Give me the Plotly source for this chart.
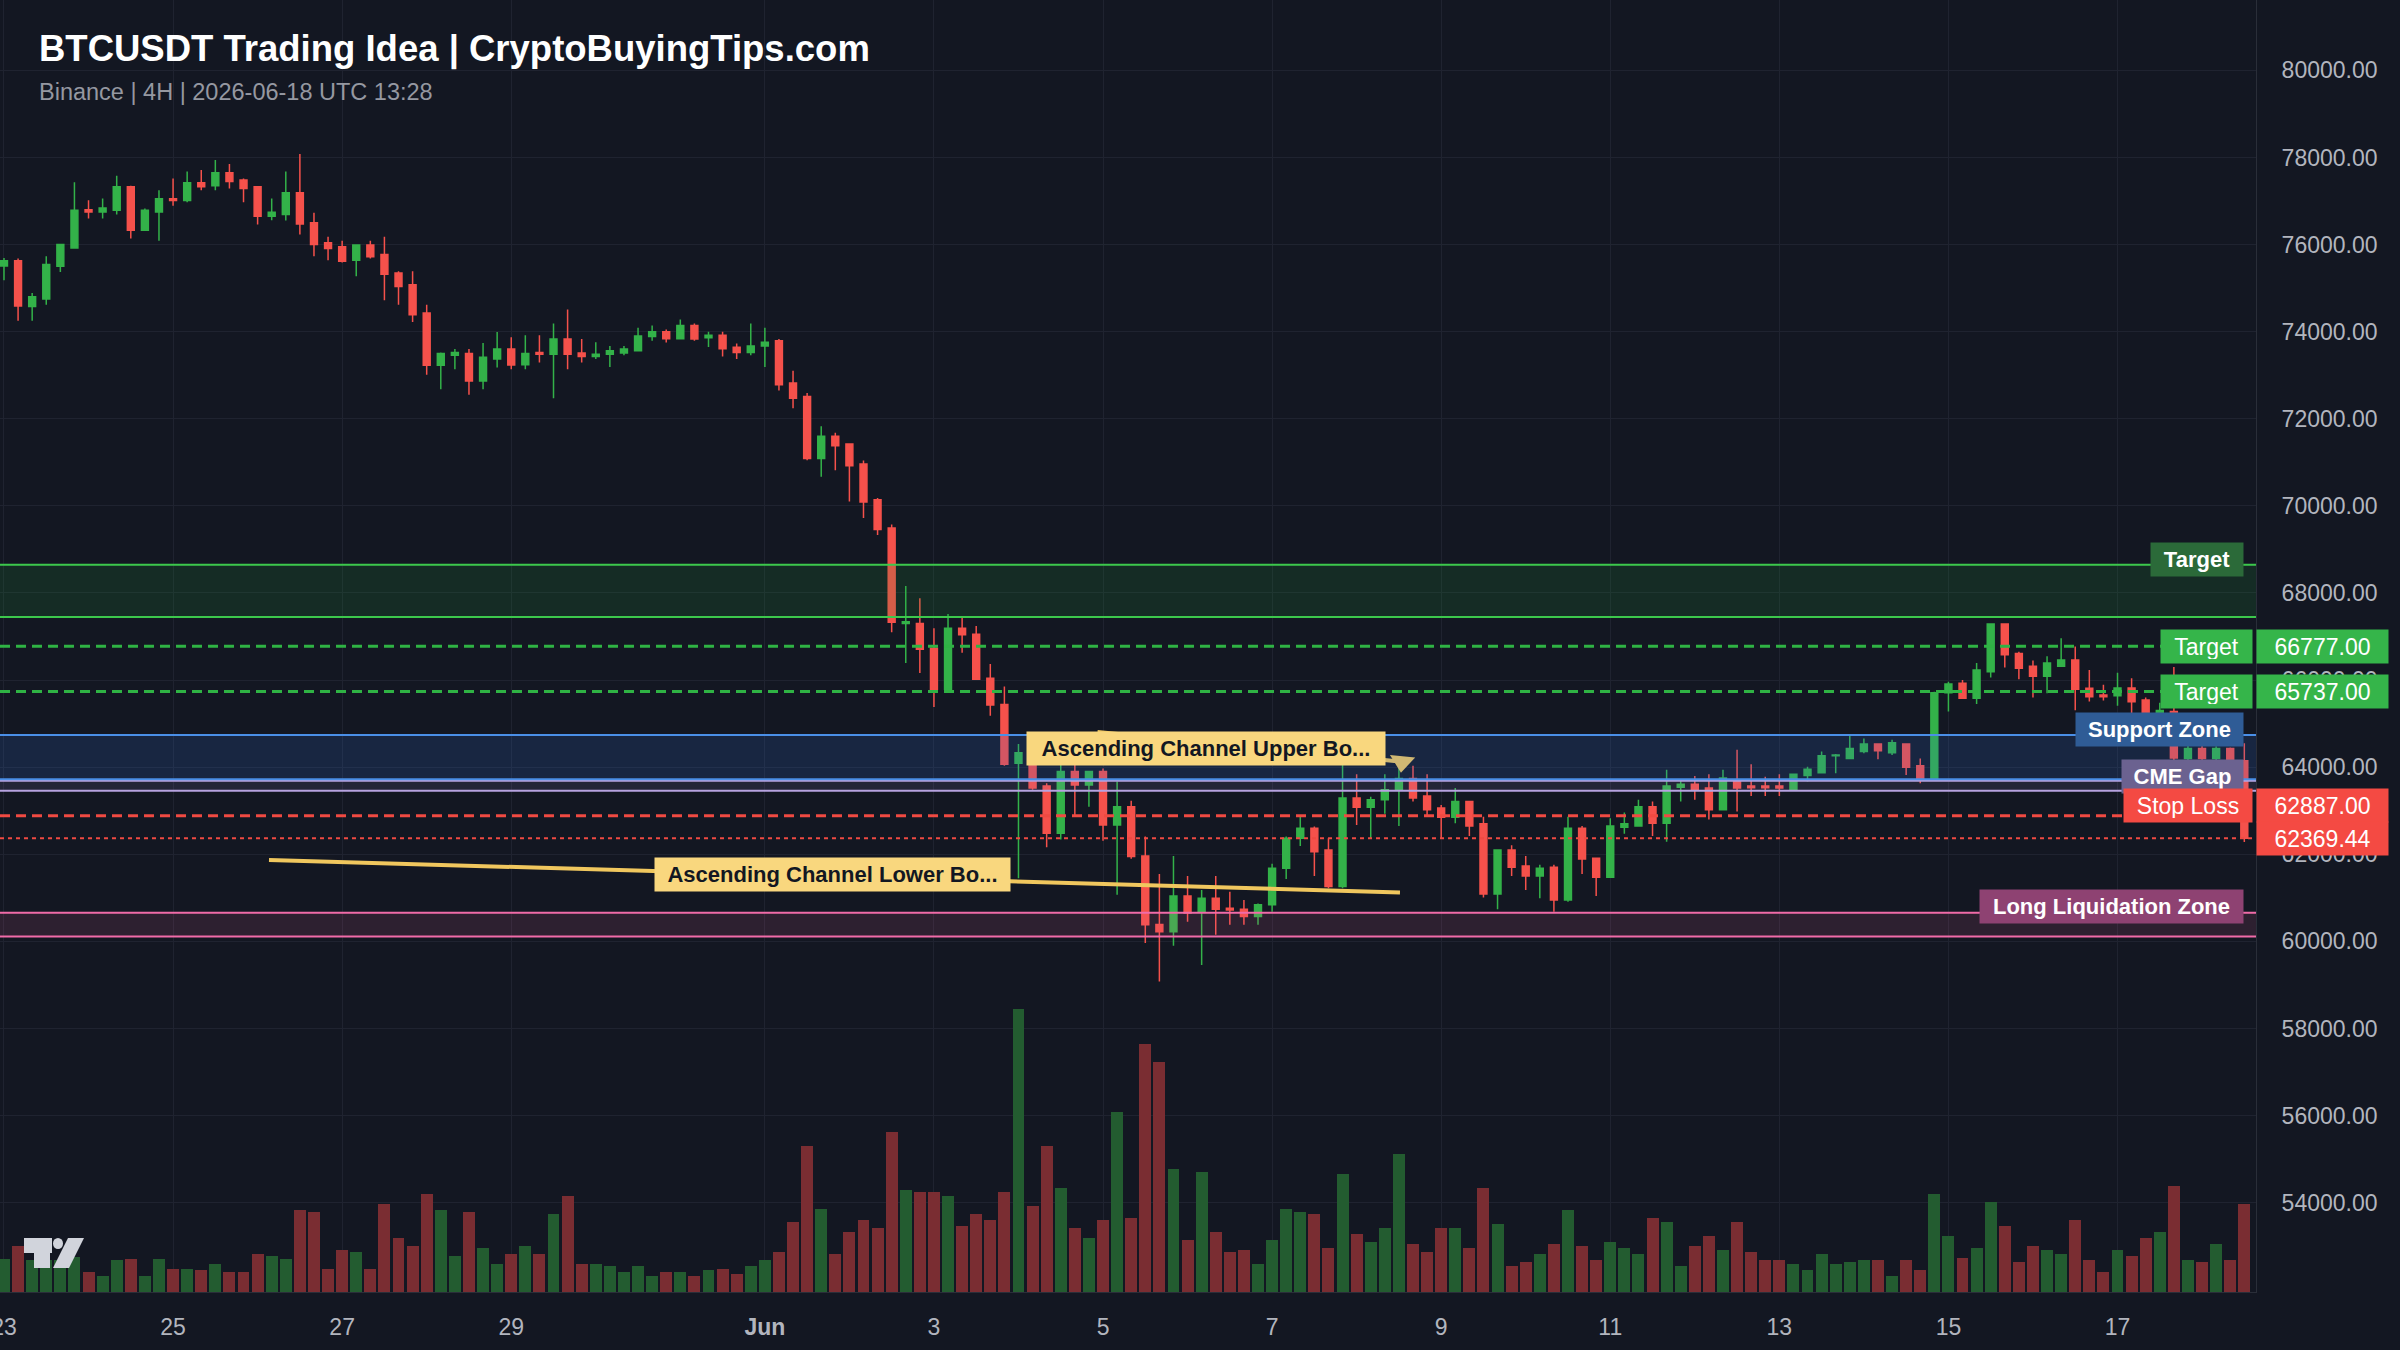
import plotly.graph_objects as go
import pandas as pd

# ---------------- data ----------------
times = pd.date_range("2026-05-23 00:00", periods=160, freq="4h")

open_ = [75510,75630,74580,74750,75500,75920,76800,76750,76790,77330,
76330,76750,77050,77010,77420,77350,77650,77480,77330,76650,
76690,77190,76500,76040,75950,75640,75990,75770,75350,75080,
74430,73230,73460,73500,72870,73370,73600,73240,73520,73480,
73830,73510,73430,73480,73510,73560,73890,74000,73840,74140,
73860,73920,73640,73520,73670,73790,72820,72510,71090,71600,
71420,70960,70140,69490,67300,67300,66730,65790,67190,67050,
66040,65440,64090,64070,63570,62480,63900,63590,63900,62670,
63090,61960,60390,60220,61040,60680,60990,60760,60740,60570,
60840,61680,62370,62600,62100,61260,63290,63080,63250,63480,
63740,63340,63060,62850,63210,62700,61090,62100,61730,61500,
61700,60950,62600,61910,61470,62620,62650,63090,62710,63540,
63610,63520,63020,63690,63570,63570,63570,63480,63810,63870,
64260,64200,64360,64530,64330,64530,64030,63740,65710,65930,
65580,66190,67290,66610,66320,66090,66320,66460,65810,65660,
65640,65820,65540,65160,65280,64200,64430,64200,64430,64150]

high = [75690,75680,74890,75730,76020,77430,77020,77060,77580,77350,
76830,77250,77520,77680,77710,77940,77850,77520,77340,77060,
77680,78080,76730,76180,76090,76000,76090,76180,75390,75390,
74620,73520,73600,73600,73740,73990,73870,73920,73920,74190,
74510,73830,73760,73670,73670,74090,74140,74050,74280,74190,
74000,74000,73730,74190,74090,73830,73100,72590,71830,71680,
71420,71040,70180,69570,68160,67880,67190,67520,67470,67240,
66370,65850,64530,64170,63630,64090,64090,63900,63970,63670,
63230,62410,61550,61960,61500,61180,61500,61140,60950,60870,
61780,62410,62860,62640,62370,64050,63840,63320,63840,64130,
64030,63840,63130,63520,63210,62860,62100,62210,61960,61760,
61760,62860,62650,61910,62830,62960,63250,63210,63940,63690,
63800,63840,63940,64400,64070,63780,63840,63840,64010,64360,
64300,64740,64660,64530,64630,64530,64200,65730,65960,66000,
66390,67290,67290,66650,66450,66550,66960,66770,66230,65890,
66170,66040,65600,65480,66300,64500,64500,64480,64450,64550]

low = [75180,74250,74250,74620,75370,75910,76600,76600,76690,76140,
76320,76090,76890,76970,77250,77250,77290,76970,76460,76560,
76550,76230,75730,75640,75590,75270,75680,74720,74620,74220,
73010,72680,73140,72550,72680,73180,73140,73140,73290,72470,
73140,73290,73370,73190,73460,73560,73790,73750,73840,73790,
73650,73430,73370,73460,73190,72650,72240,71050,70670,70820,
70100,69720,69330,67100,66390,66160,65380,65740,66630,66000,
65180,64030,61450,63480,62160,62340,62860,63090,62310,61070,
61900,59960,59080,59900,60450,59460,60150,60380,60380,60380,
60680,61430,62190,61500,61220,61220,62670,62370,62930,62650,
63210,62900,62370,62710,62420,61010,60740,61500,61180,60990,
60680,60910,61550,61040,61470,62470,62650,62420,62290,63210,
63250,62800,63020,62980,63340,63340,63340,63480,63670,63870,
63860,64180,64320,64180,64280,63820,63630,63740,65280,65580,
65450,66060,66290,66020,65600,65700,66310,65310,65510,65530,
65410,65240,65080,65000,64150,64100,64150,64150,64000,62280]

close = [75630,74590,74800,75540,76000,76790,76750,76840,77330,76330,
76790,77050,77010,77420,77330,77650,77450,77290,76650,76740,
77190,76470,76000,75910,75620,75990,75720,75320,75040,74390,
73230,73500,73520,72870,73410,73600,73235,73500,73480,73830,
73480,73430,73480,73560,73600,73900,74000,73840,74140,73830,
73920,73610,73520,73670,73760,72780,72470,71090,71600,71380,
70920,70090,69460,67330,67340,66710,65790,67190,67040,66020,
65430,64070,64330,63520,62480,63900,63590,63900,62670,63090,
61950,60380,60220,61040,60650,60990,60740,60720,60570,60840,
61680,62370,62600,62060,61260,63290,63080,63250,63480,63740,
63290,63020,62850,63210,62650,61090,62100,61700,61500,61680,
60950,62600,61890,61470,62650,62700,63090,62710,63570,63610,
63490,63020,63750,63520,63530,63530,63520,63840,63950,64260,
64280,64430,64530,64380,64560,64000,63740,65710,65910,65580,
66230,67290,66580,66270,66090,66390,66460,65790,65620,65620,
65820,65500,65160,65300,64210,64430,64200,64430,64150,62369.44]

volume = [3330,4570,3200,3200,3200,3500,2000,1570,3170,3330,
1570,3330,2330,2330,2170,2770,2000,2000,3770,3570,
3330,8170,7970,2330,4170,3970,2330,8770,5400,4600,
9770,8170,3570,7970,4370,2770,3770,4600,3770,7770,
9570,2770,2770,2570,1970,2570,1570,1970,1970,1570,
2170,2330,1770,2570,3170,3970,7000,14600,8330,3770,
5970,7170,6370,15970,10170,9970,9970,9570,6570,7770,
7170,9970,28330,8570,14600,10370,6370,5400,7170,17970,
7370,24770,23000,12330,5170,12000,5970,3970,4170,2770,
5170,8330,7970,7770,4370,11800,5770,4970,6370,13800,
4770,3970,6370,6370,4370,10370,6770,2570,2970,3770,
4770,8170,4570,3170,4970,4370,3770,7370,6970,2570,
4570,5570,4170,6970,3970,3170,3170,2770,2170,3770,
2770,2970,3170,3170,1570,3170,2170,9770,5570,3370,
4370,8970,6570,2970,4570,4170,3770,7170,3170,1970,
4170,3570,5370,5970,10570,3170,2970,4770,3170,8770]

# levels
target_zone = [67450, 68650]
target_1 = 66777.00
target_2 = 65737.00
support_zone = [63720, 64740]
cme_gap = [63460, 63690]
stop_loss = 62887.00
last_price = 62369.44
liq_zone = [60110, 60660]

channel_upper_x = ["2026-06-04 22:26", "2026-06-08 12:53"]
channel_upper_y = [64808, 64126]
channel_lower_x = ["2026-05-26 03:14", "2026-06-08 12:18"]
channel_lower_y = [61869, 61123]
upper_label_pos = ["2026-06-06 05:15", 64430]
lower_label_pos = ["2026-06-01 19:12", 61525]

tick_dates = ["2026-05-23", "2026-05-25", "2026-05-27", "2026-05-29", "2026-06-01",
              "2026-06-03", "2026-06-05", "2026-06-07", "2026-06-09", "2026-06-11",
              "2026-06-13", "2026-06-15", "2026-06-17"]
tick_text = ["23", "25", "27", "29", "<b>Jun</b>", "3", "5", "7", "9", "11", "13", "15", "17"]
price_ticks = list(range(54000, 80001, 2000))

# ---------------- style ----------------
BG = "#131722"
GRID = "#1f2330"
UP = "#33b249"
DOWN = "#f5514b"
VOL_UP = "#235c30"
VOL_DOWN = "#7a2d32"
FONT = "Liberation Sans, Arial, Helvetica, sans-serif"
W, H = 2400, 1350
PLOT_W, PLOT_H = 2256, 1292

vol_colors = [VOL_UP if c >= o else VOL_DOWN for o, c in zip(open_, close)]

fig = go.Figure()

fig.add_trace(go.Bar(
    x=times, y=volume, marker_color=vol_colors, marker_line_width=0,
    width=12.2e6, yaxis="y2", hoverinfo="skip", showlegend=False))

fig.add_trace(go.Candlestick(
    x=times, open=open_, high=high, low=low, close=close,
    increasing=dict(line=dict(color=UP, width=1.5), fillcolor=UP),
    decreasing=dict(line=dict(color=DOWN, width=1.5), fillcolor=DOWN),
    showlegend=False))

CH = "#f0c75e"
fig.add_trace(go.Scatter(x=channel_lower_x, y=channel_lower_y, mode="lines",
                         line=dict(color=CH, width=4), showlegend=False, hoverinfo="skip"))
fig.add_trace(go.Scatter(x=channel_upper_x, y=channel_upper_y, mode="lines+markers",
                         line=dict(color=CH, width=4),
                         marker=dict(symbol=["circle", "triangle-right"], size=[0, 22],
                                     color=[CH, CH], opacity=1, angleref="previous",
                                     line=dict(width=0, color=CH)),
                         showlegend=False, hoverinfo="skip"))

shapes = []


def hline(y, color, width, dash="solid"):
    shapes.append(dict(type="line", xref="paper", x0=0, x1=1, yref="y", y0=y, y1=y,
                       line=dict(color=color, width=width, dash=dash), layer="above"))


def zone(y0, y1, fill):
    shapes.append(dict(type="rect", xref="paper", x0=0, x1=1, yref="y", y0=y0, y1=y1,
                       fillcolor=fill, line=dict(width=0), layer="above"))


zone(target_zone[0], target_zone[1], "rgba(34,171,63,0.15)")
hline(target_zone[0], "#3cc84c", 2)
hline(target_zone[1], "#3cc84c", 2)
zone(support_zone[0], support_zone[1], "rgba(52,110,220,0.17)")
zone(cme_gap[0], cme_gap[1], "rgba(160,140,220,0.12)")
zone(liq_zone[0], liq_zone[1], "rgba(240,98,160,0.12)")
hline(support_zone[1], "#4a8fe7", 2)
hline(cme_gap[0], "#b7a3e0", 2)
hline(cme_gap[1], "#b7a3e0", 2)
hline(support_zone[0], "#4a8fe7", 2)
hline(liq_zone[0], "#f06ba8", 2)
hline(liq_zone[1], "#f06ba8", 2)
hline(target_1, "#2fb344", 3, "10px,6px")
hline(target_2, "#2fb344", 3, "10px,6px")
hline(stop_loss, "#f04a42", 3, "10px,6px")
hline(last_price, "#f04a42", 2, "4px,4px")


# TradingView-like logo (decoration, pixel positions)
def px(x):
    return x / PLOT_W


def py(y):
    return (PLOT_H - y) / PLOT_H


LOGO = "#d1d4dc"
shapes.append(dict(type="rect", xref="paper", yref="paper", x0=px(24), x1=px(52),
                   y0=py(1253), y1=py(1238), fillcolor=LOGO, line_width=0, layer="above"))
shapes.append(dict(type="rect", xref="paper", yref="paper", x0=px(34), x1=px(50),
                   y0=py(1268), y1=py(1238), fillcolor=LOGO, line_width=0, layer="above"))
shapes.append(dict(type="circle", xref="paper", yref="paper", x0=px(53), x1=px(63),
                   y0=py(1249), y1=py(1238), fillcolor=LOGO, line_width=0, layer="above"))
shapes.append(dict(type="path", xref="paper", yref="paper",
                   path=f"M {px(68)} {py(1238)} L {px(84)} {py(1238)} L {px(69)} {py(1268)} L {px(53)} {py(1268)} Z",
                   fillcolor=LOGO, line_width=0, layer="above"))

annotations = []

# title
annotations.append(dict(xref="paper", yref="paper", x=px(37), y=py(49), xanchor="left", yanchor="middle",
                        text="<b>BTCUSDT Trading Idea | CryptoBuyingTips.com</b>", showarrow=False,
                        font=dict(family=FONT, size=36.5, color="#ffffff")))
annotations.append(dict(xref="paper", yref="paper", x=px(37), y=py(92), xanchor="left", yanchor="middle",
                        text="Binance | 4H | 2026-06-18 UTC 13:28", showarrow=False,
                        font=dict(family=FONT, size=23.5, color="#9598a1")))


def zlabel(text, y, bg, width, yshift, xshift=-12, bold=True, fc="#ffffff", size=22):
    annotations.append(dict(xref="paper", yref="y", x=1, y=y, xanchor="right", yanchor="middle",
                            xshift=xshift, yshift=yshift,
                            text=f"<b>{text}</b>" if bold else text, showarrow=False,
                            bgcolor=bg, borderpad=4, width=width, height=25, align="center",
                            font=dict(family=FONT, size=size, color=fc)))


def ptag(value, bg, yshift=0):
    annotations.append(dict(xref="paper", yref="y", x=1, y=value, xanchor="left", yanchor="middle",
                            yshift=yshift, text=f"{value:.2f}", showarrow=False,
                            bgcolor=bg, borderpad=4, width=123, height=25, align="center",
                            font=dict(family=FONT, size=23, color="#ffffff")))


zlabel("Target", target_zone[1], "#2b6a39", 84, 5)
zlabel("Target", target_1, "#35b54a", 83, 0, xshift=-3, bold=False, size=23)
zlabel("Target", target_2, "#35b54a", 83, 0, xshift=-3, bold=False, size=23)
zlabel("Support Zone", support_zone[1], "#2f5c96", 159, 5)
zlabel("CME Gap", cme_gap[1], "#6b6290", 113, 4)
zlabel("Stop Loss", stop_loss, "#f44a43", 120, 10, xshift=-3, bold=False, size=23)
zlabel("Long Liquidation Zone", liq_zone[1], "#8e4272", 255, 6)

ptag(target_1, "#35b54a")
ptag(target_2, "#35b54a")
ptag(stop_loss, "#f44a43", yshift=10)
ptag(last_price, "#f44a43")

annotations.append(dict(x=upper_label_pos[0], y=upper_label_pos[1], xref="x", yref="y",
                        text="<b>Ascending Channel Upper Bo...</b>", showarrow=False,
                        bgcolor="#f9d77e", borderpad=4, width=350, height=25,
                        font=dict(family=FONT, size=22, color="#131722")))
annotations.append(dict(x=lower_label_pos[0], y=lower_label_pos[1], xref="x", yref="y",
                        text="<b>Ascending Channel Lower Bo...</b>", showarrow=False,
                        bgcolor="#f9d77e", borderpad=4, width=347, height=25,
                        font=dict(family=FONT, size=22, color="#131722")))

fig.update_layout(
    width=W, height=H,
    paper_bgcolor=BG, plot_bgcolor=BG,
    margin=dict(l=0, r=W - PLOT_W, t=0, b=H - PLOT_H),
    showlegend=False,
    font=dict(family=FONT, color="#b2b5be"),
    shapes=shapes, annotations=annotations,
    xaxis=dict(type="date", range=["2026-05-22 22:52", "2026-06-18 15:19"],
               tickvals=tick_dates, ticktext=tick_text,
               tickfont=dict(family=FONT, size=23, color="#b2b5be"),
               showgrid=True, gridcolor=GRID, gridwidth=1,
               showline=True, linecolor="#2a2e39", linewidth=1,
               zeroline=False, ticks="", ticklabelstandoff=14,
               ticklabeloverflow="allow",
               rangeslider=dict(visible=False), automargin=False),
    yaxis=dict(side="right", range=[51949, 81616], tickvals=price_ticks, tickformat=".2f",
               tickfont=dict(family=FONT, size=23, color="#b2b5be"),
               showgrid=True, gridcolor=GRID, gridwidth=1,
               showline=True, linecolor="#2a2e39", linewidth=1,
               zeroline=False, ticks="", ticklabelstandoff=20, automargin=False),
    yaxis2=dict(overlaying="y", range=[0, PLOT_H * 100], visible=False, fixedrange=True),
    bargap=0,
)

fig.write_html("out.html", config={"displayModeBar": False},
               post_script="document.body.style.margin='0px';document.body.style.background='#131722';")
